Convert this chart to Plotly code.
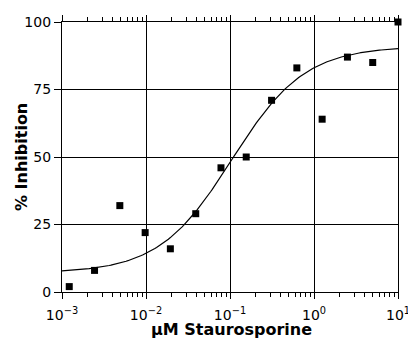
import plotly.graph_objects as go
import numpy as np

# Data
conc_uM = [0.00122, 0.00244, 0.00488, 0.00977, 0.0195, 0.0391, 0.0781,
           0.156, 0.3125, 0.625, 1.25, 2.5, 5.0, 10.0]
inhibition = [2, 8, 32, 22, 16, 29, 46, 50, 71, 83, 64, 87, 85, 100]

# Fitted 4-parameter logistic curve parameters
fit_bottom = 7.0
fit_top = 91.0
fit_ic50 = 0.105
fit_hill = 1.0

x_tick_vals = [0.001, 0.01, 0.1, 1, 10]
x_tick_text = ["10<sup>\u22123</sup>", "10<sup>\u22122</sup>", "10<sup>\u22121</sup>",
               "10<sup>0</sup>", "10<sup>1</sup>"]
y_tick_vals = [0, 25, 50, 75, 100]
x_title = "\u03bcM Staurosporine"
y_title = "% Inhibition"

curve_x = np.logspace(-3, 1, 200)
curve_y = fit_bottom + (fit_top - fit_bottom) / (1 + (fit_ic50 / curve_x) ** fit_hill)

font_family = "DejaVu Sans, Liberation Sans, Arial, sans-serif"

fig = go.Figure()
fig.add_trace(go.Scatter(x=curve_x, y=curve_y, mode="lines",
                         line=dict(color="black", width=1.2),
                         showlegend=False, hoverinfo="skip"))
fig.add_trace(go.Scatter(x=conc_uM, y=inhibition, mode="markers",
                         marker=dict(symbol="square", size=7, color="black"),
                         cliponaxis=False, showlegend=False))
# invisible trace to carry the top axis
fig.add_trace(go.Scatter(x=[conc_uM[0]], y=[inhibition[0]], xaxis="x2", mode="markers",
                         marker=dict(opacity=0), showlegend=False, hoverinfo="skip"))

fig.update_layout(
    width=408, height=344,
    margin=dict(l=62, r=10, t=22, b=52),
    paper_bgcolor="white", plot_bgcolor="white",
    font=dict(family=font_family, size=14, color="black"),
    xaxis2=dict(
        type="log", range=[-3, 1], overlaying="x", side="top", anchor="y",
        tickvals=x_tick_vals, showticklabels=False, automargin=False,
        ticks="outside", ticklen=6, tickcolor="black", tickwidth=1,
        showline=True, linecolor="black", linewidth=1.2,
        showgrid=False, zeroline=False,
        minor=dict(ticks="outside", ticklen=4, tickcolor="black", tickwidth=1,
                   dtick="D1", showgrid=False),
    ),
    annotations=[
        dict(text="<b>" + y_title + "</b>", textangle=-90,
             xref="paper", yref="paper", x=-0.122, y=0.5,
             xanchor="center", yanchor="middle", showarrow=False,
             font=dict(size=16, family=font_family)),
        dict(text="<b>" + x_title + "</b>",
             xref="paper", yref="paper", x=0.505, y=-0.098,
             xanchor="center", yanchor="top", showarrow=False,
             font=dict(size=16, family=font_family)),
    ],
)
fig.layout.xaxis.update(
    type="log", range=[-3, 1], automargin=False,
    tickvals=x_tick_vals, ticktext=x_tick_text,
    ticks="outside", ticklen=6, tickcolor="black", tickwidth=1,
    showline=True, linecolor="black", linewidth=1.2,
    showgrid=True, gridcolor="black", gridwidth=1,
    zeroline=False, ticklabeloverflow="allow", ticklabelstandoff=4,
    minor=dict(ticks="outside", ticklen=4, tickcolor="black", tickwidth=1,
               dtick="D1", showgrid=False),
    tickfont=dict(size=14),
)
fig.update_yaxes(
    range=[0, 100], automargin=False,
    tickvals=y_tick_vals,
    ticks="outside", ticklen=7, tickcolor="black", tickwidth=1,
    showline=True, linecolor="black", linewidth=1.2, mirror=True,
    showgrid=True, gridcolor="black", gridwidth=1,
    zeroline=False,
    tickfont=dict(size=14),
)

fig.write_html("out.html")
